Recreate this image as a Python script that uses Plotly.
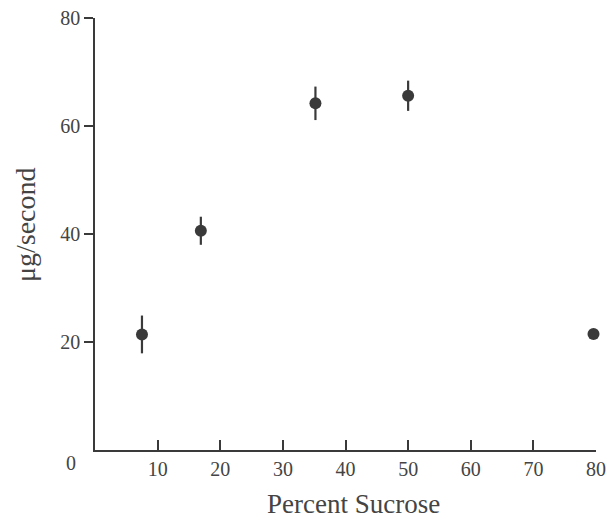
import plotly.graph_objects as go

sucrose_pct = [7.5, 16.9, 35.2, 50.0, 79.6]
rate_ug_s = [21.4, 40.6, 64.2, 65.6, 21.5]
rate_err = [3.5, 2.6, 3.1, 2.8, 0]

x_ticks = [10, 20, 30, 40, 50, 60, 70, 80]
y_ticks = [20, 40, 60, 80]

ink = "#3a3a3a"
txt = "#444"
font = "Liberation Serif"

fig = go.Figure()
fig.add_trace(go.Scatter(
    x=sucrose_pct, y=rate_ug_s, mode="markers",
    marker=dict(size=12, color=ink),
    error_y=dict(type="data", array=rate_err, visible=True,
                 color=ink, thickness=2.2, width=0),
    showlegend=False, cliponaxis=False,
))

fig.update_layout(
    width=611, height=519,
    margin=dict(l=94.5, r=15, t=18, b=69),
    paper_bgcolor="white", plot_bgcolor="white",
    font=dict(family=font, color=txt, size=20),
    xaxis=dict(range=[0, 80], tickvals=x_ticks, ticks="inside", ticklen=10,
               tickwidth=1.5, tickcolor=ink, showline=True, linecolor=ink,
               linewidth=1.5, showgrid=False, zeroline=False, automargin=False,
               tickfont=dict(size=20, family=font, color=txt)),
    yaxis=dict(range=[0, 80], tickvals=y_ticks, ticks="outside", ticklen=9,
               tickwidth=1.5, tickcolor=ink, showline=True, linecolor=ink,
               linewidth=1.5, showgrid=False, zeroline=False, automargin=False,
               tickfont=dict(size=20, family=font, color=txt)),
)

# axis titles
fig.add_annotation(x=0.516, y=0, xref="paper", yref="paper",
                   text="Percent Sucrose", showarrow=False,
                   xanchor="center", yanchor="middle", yshift=-54,
                   font=dict(size=27, family=font, color=txt))
fig.add_annotation(x=0, y=0.5208, xref="paper", yref="paper",
                   text="μg/second", showarrow=False, textangle=-90,
                   xanchor="center", yanchor="middle", xshift=-70,
                   font=dict(size=28, family=font, color=txt))
# corner zero label
fig.add_annotation(x=0, y=0, xref="x", yref="y", text="0", showarrow=False,
                   xanchor="center", yanchor="middle", xshift=-24, yshift=-13,
                   font=dict(size=20, family=font, color=txt))

fig.write_html("out.html", config={"displayModeBar": False},
               post_script="document.body.style.margin='0px';")
